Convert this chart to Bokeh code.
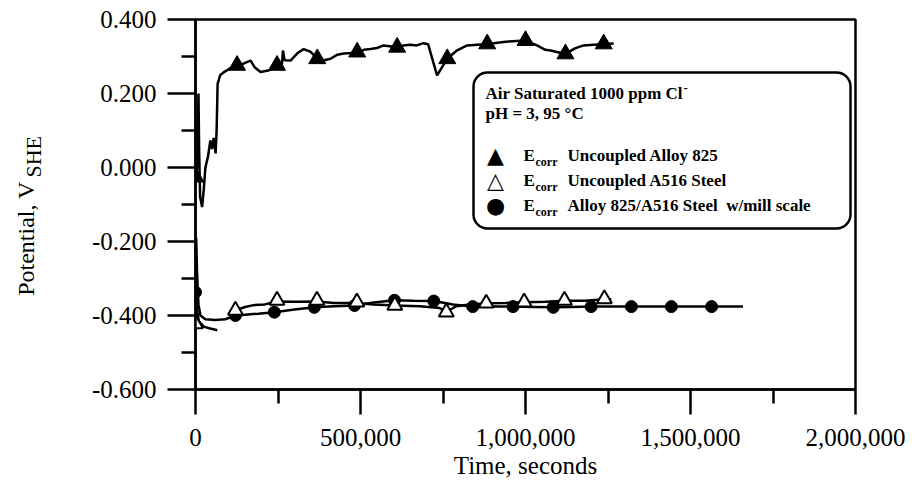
import math
from bokeh.plotting import figure
from bokeh.layouts import row
from bokeh.models import Range1d, FixedTicker, NumeralTickFormatter, Label, BoxAnnotation
from bokeh.embed import file_html
from bokeh.resources import INLINE

NAN = float("nan")

# ---- data ----
alloy_t = [0, 5000, 9000, 11000, 14000, 20000, 25000, 30000, 38000, 45000, 50000, 55000, 61000,
           64000, 67000, 75000, 85000, 105000, 126000, 150000, 167000, 180000, 197000, 220000,
           247000, 262000, 265000, 270000, 288000, 310000, 328000, 348000, 369000, 390000,
           409000, 430000, 449000, 490000, 510000, 530000, 550000, 570000, 611000, 630000,
           651000, 670000, 691000, 705000, 732000, 763000, 790000, 823000, 884000, 940000,
           1000000, 1035000, 1060000, 1076000, 1121000, 1150000, 1176000, 1237000, 1267000]
alloy_v = [-0.026, 0.0, 0.20, 0.05, -0.08, -0.107, -0.06, 0.0, 0.03, 0.073, 0.05, 0.08, 0.038,
           0.10, 0.226, 0.25, 0.257, 0.268, 0.272, 0.283, 0.289, 0.27, 0.258, 0.262,
           0.272, 0.28, 0.316, 0.29, 0.289, 0.31, 0.32, 0.313, 0.294, 0.29,
           0.294, 0.305, 0.308, 0.31, 0.318, 0.32, 0.323, 0.33, 0.325, 0.33,
           0.332, 0.33, 0.336, 0.333, 0.249, 0.294, 0.315, 0.33, 0.334, 0.34,
           0.343, 0.330, 0.318, 0.316, 0.307, 0.322, 0.33, 0.334, 0.335]
alloy_mark_t = [0, 126000, 247000, 369000, 490000, 611000, 763000, 884000, 1000000, 1121000, 1237000]
alloy_mark_v = [-0.026, 0.276, 0.276, 0.294, 0.312, 0.325, 0.294, 0.334, 0.343, 0.307, 0.334]

steel_t = [0, 1000, 4000, 10000, 25000, 45000, 66000, NAN, 100000, 121000, 150000, 176000, 210000,
           247000, 300000, 368000, 420000, 489000, 540000, 604000, 680000, 740000, 760000, 790000,
           830000, 881000, 940000, 996000, 1060000, 1118000, 1180000, 1239000, 1260000]
steel_v = [-0.42, -0.33, -0.38, -0.415, -0.43, -0.435, -0.44, NAN, -0.395, -0.386, -0.377, -0.372, -0.37,
           -0.362, -0.363, -0.362, -0.366, -0.366, -0.37, -0.373, -0.375, -0.38, -0.39, -0.375,
           -0.37, -0.367, -0.366, -0.364, -0.363, -0.36, -0.36, -0.356, -0.356]
steel_mark_t = [0, 121000, 247000, 368000, 489000, 604000, 760000, 881000, 996000, 1118000, 1239000]
steel_mark_v = [-0.423, -0.386, -0.359, -0.359, -0.364, -0.373, -0.391, -0.367, -0.364, -0.359, -0.355]

coupled_t = [0, 2000, 5000, 9000, 15000, 30000, 60000, 90000, 121000, 150000, 190000, 239000,
             300000, 360000, 420000, 482000, 540000, 603000, 660000, 722000, 780000, 840000,
             900000, 962000, 1020000, 1084000, 1140000, 1199000, 1260000, 1321000, 1380000,
             1442000, 1500000, 1564000, 1659000]
coupled_v = [-0.337, -0.19, -0.29, -0.37, -0.40, -0.41, -0.412, -0.41, -0.40, -0.398, -0.395, -0.391,
             -0.384, -0.378, -0.375, -0.373, -0.365, -0.359, -0.36, -0.361, -0.37, -0.376,
             -0.376, -0.376, -0.377, -0.378, -0.377, -0.376, -0.376, -0.376, -0.376,
             -0.376, -0.376, -0.376, -0.376]
coupled_mark_t = [0, 121000, 239000, 360000, 482000, 603000, 722000, 840000, 962000, 1084000,
                  1199000, 1321000, 1442000, 1564000]
coupled_mark_v = [-0.337, -0.400, -0.391, -0.378, -0.373, -0.359, -0.361, -0.376, -0.376, -0.378,
                  -0.376, -0.376, -0.376, -0.376]

x_ticks = [0, 500000, 1000000, 1500000, 2000000]
x_minor = [250000, 750000, 1250000, 1750000]
x_tick_labels = ["0", "500,000", "1,000,000", "1,500,000", "2,000,000"]
y_ticks = [-0.6, -0.4, -0.2, 0, 0.2, 0.4]
y_minor = [-0.5, -0.3, -0.1, 0.1, 0.3]
y_tick_labels = ["-0.600", "-0.400", "-0.200", "0.000", "0.200", "0.400"]

y_title = ["Potential, V", "SHE"]
x_title = "Time, seconds"
legend_title = ["Air Saturated 1000 ppm Cl", "pH = 3, 95 \u00b0C"]
legend_symbols = ["\u25b2", "\u25b3", "\u25cf"]
legend_texts = ["Uncoupled Alloy 825", "Uncoupled A516 Steel",
                "Alloy 825/A516 Steel \u00a0w/mill scale"]

SERIF = "Liberation Serif"
H = 483
LW = 60

# ---- narrow left panel holding the y-axis title (with subscript) ----
lf = figure(frame_width=LW, frame_height=H, x_range=Range1d(0, LW), y_range=Range1d(0, H),
            output_backend="svg", toolbar_location=None, min_border=0, title=None,
            x_axis_location=None, y_axis_location=None)
lf.outline_line_color = None
lf.grid.visible = False
lf.background_fill_color = "white"
lf.border_fill_color = "white"
lf.add_layout(Label(x=25, y=H - 219, text=y_title[0], angle=math.pi / 2,
                    text_align="center", text_baseline="middle",
                    text_font=SERIF, text_font_size="24px", text_color="black"))
lf.add_layout(Label(x=33, y=H - 158, text=y_title[1], angle=math.pi / 2,
                    text_align="left", text_baseline="middle",
                    text_font=SERIF, text_font_size="22px", text_color="black"))

# ---- main plot ----
p = figure(width=905 - LW, height=H, x_range=Range1d(0, 2000000), y_range=Range1d(-0.6, 0.4),
           output_backend="svg", toolbar_location=None,
           min_border_left=195 - LW, min_border_right=50, min_border_top=19,
           min_border_bottom=H - 389)
p.background_fill_color = "white"
p.border_fill_color = "white"
p.grid.visible = False
p.outline_line_color = "black"
p.outline_line_width = 2.5

p.xaxis.ticker = FixedTicker(ticks=x_ticks, minor_ticks=x_minor)
p.yaxis.ticker = FixedTicker(ticks=y_ticks, minor_ticks=y_minor)
p.xaxis.formatter = NumeralTickFormatter(format="0,0")
p.yaxis.formatter = NumeralTickFormatter(format="0.000")
p.xaxis.major_label_overrides = {t: lab for t, lab in zip(x_ticks, x_tick_labels)}
p.yaxis.major_label_overrides = {t: lab for t, lab in zip(y_ticks, y_tick_labels)}
for ax in (p.xaxis[0], p.yaxis[0]):
    ax.axis_line_color = "black"
    ax.axis_line_width = 2.5
    ax.major_tick_line_color = "black"
    ax.major_tick_line_width = 2.5
    ax.minor_tick_line_color = "black"
    ax.minor_tick_line_width = 2.5
    ax.major_tick_in = 0
    ax.minor_tick_in = 0
    ax.major_label_text_font = SERIF
    ax.major_label_text_font_size = "25px"
    ax.major_label_text_color = "black"
    ax.major_label_text_font_style = "normal"
p.xaxis.major_tick_out = 25
p.xaxis.minor_tick_out = 14
p.yaxis.major_tick_out = 28
p.yaxis.minor_tick_out = 14
p.xaxis.major_label_standoff = 14
p.yaxis.major_label_standoff = 11
p.xaxis.axis_label = x_title
p.xaxis.axis_label_text_font = SERIF
p.xaxis.axis_label_text_font_size = "25px"
p.xaxis.axis_label_text_font_style = "normal"
p.xaxis.axis_label_text_color = "black"
p.xaxis.axis_label_standoff = 3

p.line(alloy_t, alloy_v, line_color="black", line_width=2.5)
p.line(steel_t, steel_v, line_color="black", line_width=2.5)
p.line(coupled_t, coupled_v, line_color="black", line_width=2.5)
p.scatter(alloy_mark_t, alloy_mark_v, marker="triangle", size=17,
          fill_color="black", line_color="black", line_width=1)
p.scatter(coupled_mark_t, coupled_mark_v, marker="circle", size=12,
          fill_color="black", line_color="black", line_width=1)
p.scatter(steel_mark_t, steel_mark_v, marker="triangle", size=15,
          fill_color="white", line_color="black", line_width=2)

# legend box (frame-relative screen units)
p.add_layout(BoxAnnotation(left=278, right=655, top=317, bottom=161,
                           left_units="screen", right_units="screen",
                           top_units="screen", bottom_units="screen",
                           fill_color="white", fill_alpha=1.0,
                           line_color="black", line_alpha=1.0, line_width=2.5,
                           border_radius=14))

def lab(x, y, text, size="17px", style="bold", font=SERIF, align="left"):
    p.add_layout(Label(x=x, y=y, x_units="screen", y_units="screen", text=text,
                       text_align=align, text_baseline="middle", text_font=font,
                       text_font_size=size, text_font_style=style, text_color="black"))

lab(290, 296, legend_title[0])
lab(488, 302, "-", size="13px")
lab(290, 276, legend_title[1])
for i, (sym, txt) in enumerate(zip(legend_symbols, legend_texts)):
    yy = 234 - 25 * i
    lab(300, yy, sym, size="22px", style="normal", font="DejaVu Sans", align="center")
    lab(328, yy, "E")
    lab(340, yy - 6, "corr", size="12px")
    lab(372, yy, txt)

layout = row(lf, p)
open("out.html", "w").write(file_html(layout, INLINE))
